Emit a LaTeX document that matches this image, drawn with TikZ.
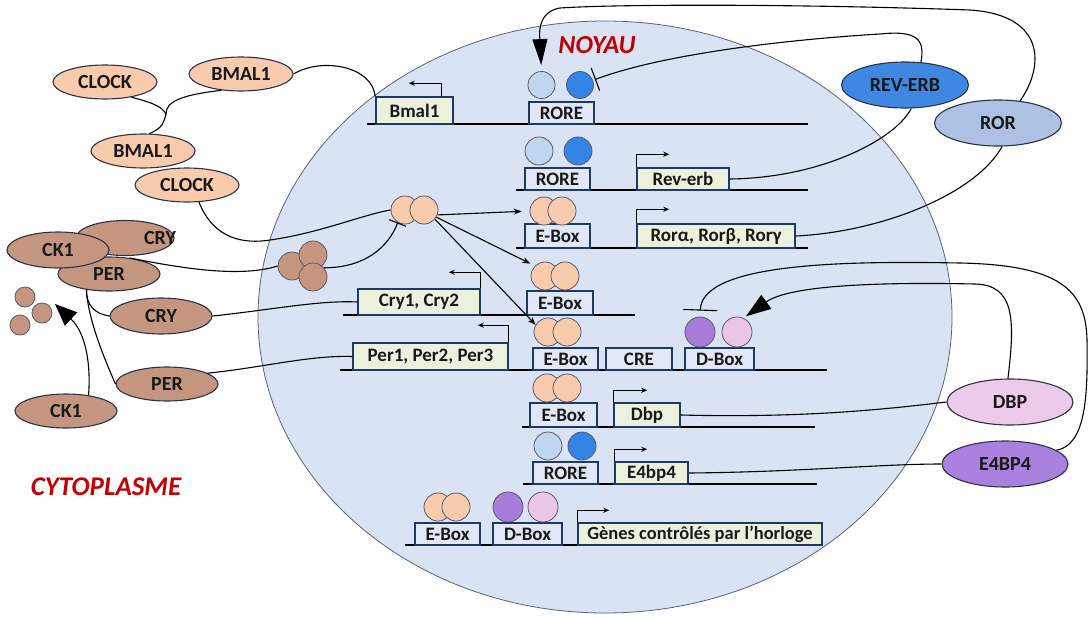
\documentclass[tikz,border=0pt]{standalone}
\usepackage{fontspec}
\setmainfont{Carlito}
\usetikzlibrary{shapes.geometric,arrows.meta}
\definecolor{peach}{RGB}{248,203,173}
\definecolor{brownp}{RGB}{196,150,128}
\definecolor{protline}{RGB}{45,50,70}
\definecolor{revblue}{RGB}{62,136,228}
\definecolor{rorblue}{RGB}{172,193,228}
\definecolor{dbppink}{RGB}{236,202,234}
\definecolor{e4purple}{RGB}{170,128,222}
\definecolor{lbcirc}{RGB}{190,214,238}
\definecolor{blcirc}{RGB}{52,132,232}
\definecolor{pucirc}{RGB}{168,124,218}
\definecolor{pkcirc}{RGB}{236,198,232}
\definecolor{nucfill}{RGB}{218,227,243}
\definecolor{nucline}{RGB}{90,98,118}
\definecolor{genefill}{RGB}{234,241,221}
\definecolor{sitefill}{RGB}{224,232,246}
\definecolor{boxline}{RGB}{31,56,100}
\definecolor{redt}{RGB}{192,0,0}
\begin{document}
\begin{tikzpicture}[x=1pt,y=-1pt,
  protn/.style={ellipse, draw=protline, line width=1.1pt, inner sep=0pt,
    font=\bfseries\fontsize{20}{22}\selectfont, text=black!90},
  peachp/.style={protn, fill=peach, minimum width=104pt, minimum height=34pt},
  brownpr/.style={protn, fill=brownp, minimum width=102pt, minimum height=35pt},
  bigp/.style={protn, minimum width=127pt, minimum height=46pt},
  sitebox/.style={draw=boxline, line width=1.5pt, fill=sitefill, inner sep=0pt,
    font=\bfseries\fontsize{19}{21}\selectfont, text=black!90, minimum height=22pt},
  genebox/.style={sitebox, fill=genefill},
  bead/.style={circle, draw=protline!80, line width=0.8pt, inner sep=0pt, minimum size=28pt},
  dnaline/.style={line width=2.2pt, black},
  promarrow/.style={line width=1pt, -{Stealth[length=6pt,width=5pt]}},
  link/.style={line width=1.1pt, black},
  actarrow/.style={link, -{Stealth[length=8pt,width=6pt]}},
  titletext/.style={font=\bfseries\itshape\fontsize{26}{28}\selectfont, text=redt}
]
\useasboundingbox (0,0) rectangle (1089,616);

% nucleus
\draw[fill=nucfill, draw=nucline, line width=0.8pt] (605,317) ellipse [x radius=347pt, y radius=296pt];

\node[titletext] (noyau) at (597,45) {NOYAU};
\node[titletext, font=\bfseries\itshape\fontsize{27}{29}\selectfont] (cyto) at (106,487) {CYTOPLASME};

% DNA lines
\draw[dnaline] (367,124) -- (808,124);
\draw[dnaline] (516,190) -- (808,190);
\draw[dnaline] (516,248) -- (808,248);
\draw[dnaline] (343,315) -- (635,315);
\draw[dnaline] (340,370) -- (827,370);
\draw[dnaline] (522,427) -- (815,427);
\draw[dnaline] (523,484) -- (817,484);
\draw[dnaline] (405,545) -- (822,545);

% row 1
\node[genebox, minimum width=77pt, minimum height=27pt] (bmalg) at (414.5,110.5) {Bmal1};
\node[sitebox, minimum width=65pt] (rore1) at (561.5,113) {RORE};
\node[bead, fill=lbcirc, minimum size=27pt] (lb1) at (541.5,85) {};
\node[bead, fill=blcirc, minimum size=27pt] (bl1) at (580,85) {};
\draw[promarrow] ([xshift=-12pt]bmalg.north east) |- ++(-33,-13);

% row 2
\node[sitebox, minimum width=65pt] (rore2) at (557.5,179) {RORE};
\node[genebox, minimum width=92pt] (revg) at (683,179) {Rev-erb};
\node[bead, fill=lbcirc] (lb2) at (539,151) {};
\node[bead, fill=blcirc] (bl2) at (578,151) {};
\draw[promarrow] (revg.north west) |- ++(33,-13);

% row 3
\node[sitebox, minimum width=65pt, minimum height=24pt] (ebox3) at (557.5,236) {E-Box};
\node[genebox, minimum width=158pt, minimum height=24pt] (rorg) at (716,236) {Rorα, Rorβ, Rorγ};
\node[bead, fill=peach] (pa3) at (544,211) {};
\node[bead, fill=peach] (pb3) at (562,211) {};
\draw[promarrow] (rorg.north west) |- ++(33,-14);

% row 4
\node[genebox, minimum width=122pt, minimum height=26pt] (cryg) at (419,302) {Cry1, Cry2};
\node[sitebox, minimum width=66pt, minimum height=24pt] (ebox4) at (560,303) {E-Box};
\node[bead, fill=peach] (pa4) at (545,276) {};
\node[bead, fill=peach] (pb4) at (565,276) {};
\draw[promarrow] (cryg.north east) |- ++(-32,-16);

% row 5
\node[genebox, minimum width=155pt, minimum height=27pt] (perg) at (430.5,356.5) {Per1, Per2, Per3};
\node[sitebox, minimum width=65pt] (ebox5) at (565.5,359) {E-Box};
\node[sitebox, minimum width=66pt] (cre) at (639,359) {CRE};
\node[sitebox, minimum width=69pt] (dbox5) at (719.5,359) {D-Box};
\node[bead, fill=peach] (pa5) at (548,332) {};
\node[bead, fill=peach] (pb5) at (567,332) {};
\node[bead, fill=pucirc, minimum size=30pt] (pu5) at (700,332) {};
\node[bead, fill=pkcirc, minimum size=30pt] (pk5) at (737,332) {};
\draw[promarrow] (perg.north east) |- ++(-31,-17);

% row 6
\node[sitebox, minimum width=67pt, minimum height=24pt] (ebox6) at (563.5,415) {E-Box};
\node[genebox, minimum width=66pt, minimum height=24pt] (dbpg) at (647,415) {Dbp};
\node[bead, fill=peach] (pa6) at (547,388) {};
\node[bead, fill=peach] (pb6) at (567,388) {};
\draw[promarrow] (dbpg.north west) |- ++(34,-12);

% row 7
\node[sitebox, minimum width=65pt] (rore7) at (565.5,473) {RORE};
\node[genebox, minimum width=73pt] (e4g) at (651.5,473) {E4bp4};
\node[bead, fill=lbcirc] (lb7) at (548,446) {};
\node[bead, fill=blcirc] (bl7) at (582,446) {};
\draw[promarrow] (e4g.north west) |- ++(33,-12);

% row 8
\node[sitebox, minimum width=65pt] (ebox8) at (447.5,534) {E-Box};
\node[sitebox, minimum width=69pt] (dbox8) at (527.5,534) {D-Box};
\node[genebox, minimum width=244pt, font=\bfseries\fontsize{18.5}{20}\selectfont] (genes) at (700,534) {Gènes contrôlés par l’horloge};
\node[bead, fill=peach] (pa8) at (438,507) {};
\node[bead, fill=peach] (pb8) at (456,507) {};
\node[bead, fill=pucirc, minimum size=30pt] (pu8) at (508,507) {};
\node[bead, fill=pkcirc, minimum size=30pt] (pk8) at (543,507) {};
\draw[promarrow] (genes.north west) |- ++(32,-12);

% complexes
\node[bead, fill=peach] (d1) at (405,210) {};
\node[bead, fill=peach] (d2) at (424,210) {};
\node[bead, fill=brownp] (t1) at (292,266) {};
\node[bead, fill=brownp] (t2) at (313,255) {};
\node[bead, fill=brownp] (t3) at (313,277) {};

% cytoplasm proteins
\node[peachp] (clockA) at (105,82) {CLOCK};
\node[peachp] (bmalA) at (241,74) {BMAL1};
\node[peachp] (bmalB) at (143,151) {BMAL1};
\node[peachp] (clockB) at (187,185) {CLOCK};
\node[brownpr, minimum width=98pt, label={[xshift=35pt, font=\bfseries\fontsize{20}{22}\selectfont, text=black!90]center:CRY}] (cryA) at (125,238) {};
\node[brownpr, minimum height=34pt] (perA) at (109,274) {PER};
\node[brownpr, minimum height=36pt] (ck1A) at (58,250) {CK1};
\node[brownpr, minimum height=36pt] (cryB) at (161,316) {CRY};
\node[brownpr, minimum height=34pt] (perB) at (167,384) {PER};
\node[brownpr, minimum height=34pt] (ck1B) at (66,411) {CK1};
\node[bead, fill=brownp, minimum size=20pt] (s1) at (25,297) {};
\node[bead, fill=brownp, minimum size=20pt] (s2) at (42,313) {};
\node[bead, fill=brownp, minimum size=20pt] (s3) at (20,325) {};

% nuclear-side proteins
\node[bigp, fill=revblue] (reverb) at (905,85) {REV-ERB};
\node[bigp, fill=rorblue] (ror) at (998,123) {ROR};
\node[bigp, fill=dbppink, minimum width=126pt] (dbp) at (1010,402) {DBP};
\node[bigp, fill=e4purple, minimum width=126pt] (e4bp4) at (1005,464) {E4BP4};

% connectors: cytoplasm
\coordinate (j1) at (166,114);
\draw[link] (bmalA.220) .. controls (180,95) and (166,102) .. (j1) .. controls (164,122) and (163,128) .. (bmalB.70);
\draw[link] (clockA.-30) .. controls (150,102) and (162,106) .. (j1);
\draw[link] (bmalA.east) .. controls (322,57) and (372,66) .. (bmalg.north west);
\draw[link] (clockB.-55) .. controls (214,240) and (245,244) .. (270,240) .. controls (320,233) and (365,214) .. (d1.west);
\draw[link] (perA.38) .. controls (180,268) and (240,278) .. (t1.west);
\draw[link, -{Bar[width=18pt]}] (t3.40) .. controls (355,268) and (385,255) .. (d1.-120);
\draw[link] (perA.-145) .. controls (86,305) and (95,314) .. (cryB.west);
\draw[link] (perA.-145) .. controls (88,320) and (105,360) .. (perB.west);
\draw[link] (cryB.east) .. controls (270,310) and (320,300) .. (cryg.west);
\draw[link] (perB.15) .. controls (260,368) and (310,355) .. (perg.west);
\coordinate (cktip) at (55,304);
\draw[link, -{Triangle[length=22pt,width=18pt]}] (ck1B.35) .. controls (91,365) and (86,333) .. (cktip);

% connectors: dimer activation
\draw[actarrow, shorten >=8pt] (d2.-20) -- (pa3.west);
\draw[actarrow, shorten >=5pt] (d2.-30) -- (pa4.135);
\draw[actarrow] (d2.-40) -- (pa5.150);

% connectors: nucleus to proteins
\draw[link] (revg.east) .. controls (820,178) and (895,140) .. (reverb.-75);
\draw[link] (rorg.east) .. controls (880,232) and (975,195) .. (ror.-80);
\draw[link] (dbpg.east) .. controls (800,418) and (880,410) .. (dbp.west);
\draw[link] (e4g.east) .. controls (800,472) and (880,464) .. (e4bp4.west);

% feedback
\draw[link, -{Bar[width=24pt]}, shorten >=2pt] (reverb.55) .. controls (925,40) and (918,30) .. (880,34) .. controls (780,40) and (660,55) .. (bl1.20);
\draw[link, -{Triangle[length=26pt,width=15pt]}, shorten >=6pt] (ror.45) .. controls (1045,65) and (1045,15) .. (970,10) .. controls (800,4) and (620,4) .. (560,8) .. controls (535,12) and (540,40) .. (lb1.north);
\draw[link, -{Triangle[length=25pt,width=17pt]}, shorten >=3pt] (dbp.95) .. controls (1015,320) and (1015,285) .. (975,284) .. controls (880,282) and (790,285) .. (pk5.65);
\draw[link, -{Bar[width=34pt]}, shorten >=6pt] (e4bp4.15) .. controls (1085,445) and (1088,400) .. (1087,340) .. controls (1086,290) and (1060,265) .. (960,263) .. controls (850,261) and (702,262) .. (pu5.north);
\end{tikzpicture}
\end{document}
